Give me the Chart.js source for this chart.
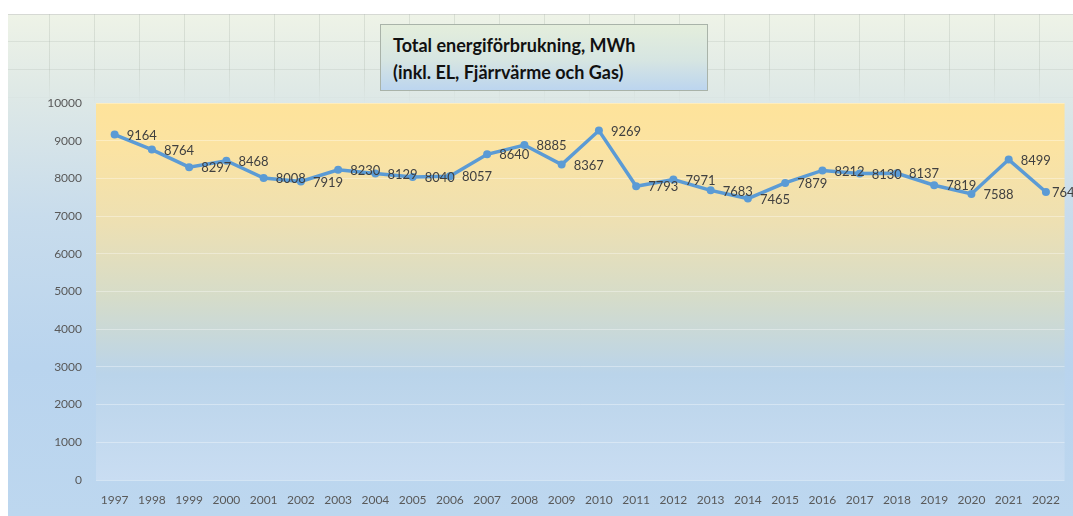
<!DOCTYPE html>
<html>
<head>
<meta charset="utf-8">
<script src="https://cdn.jsdelivr.net/npm/chart.js@4/dist/chart.umd.min.js"></script>
<style>
  html, body { margin: 0; padding: 0; background: #ffffff; }
  #wrap { position: relative; width: 1073px; height: 516px; overflow: hidden; }
  #bg {
    position: absolute; left: 8px; top: 14px; right: 0; bottom: 0;
    border-top: 1px solid #d6d9d4;
    background: linear-gradient(180deg, #eef3e7 0%, #dfe9e6 15%, #c8dcec 40%, #b9d4ee 70%, #bdd7ef 100%);
  }
  #sheet {
    position: absolute; left: 8px; top: 14px; right: 0; height: 90px;
    background:
      repeating-linear-gradient(90deg, rgba(170,180,170,0.0) 0px, rgba(170,180,170,0.0) 41px, rgba(170,180,170,0.3) 41px, rgba(170,180,170,0.3) 42px, rgba(170,180,170,0.0) 42px, rgba(170,180,170,0.0) 45px),
      repeating-linear-gradient(180deg, rgba(170,180,170,0.0) 0px, rgba(170,180,170,0.0) 27px, rgba(170,180,170,0.25) 27px, rgba(170,180,170,0.25) 28px);
    -webkit-mask-image: linear-gradient(180deg, #000 0%, #000 60%, transparent 100%);
    mask-image: linear-gradient(180deg, #000 0%, #000 60%, transparent 100%);
  }
  #chartbox { position: absolute; left: 0; top: 0; width: 1073px; height: 516px; }
  #title {
    position: absolute; left: 380px; top: 24px; width: 328px; height: 67px;
    border: 1px solid #a9b3a9;
    background: linear-gradient(180deg, #e4eedc 0%, #d6e5e2 55%, #bcd5ef 100%);
    font-family: Lato, "Open Sans", sans-serif; font-weight: bold; font-size: 18px;
    color: #111; box-sizing: border-box; padding: 7px 0 0 12px; line-height: 27px;
  }
</style>
</head>
<body>
<div id="wrap">
  <div id="bg"></div>
  <div id="sheet"></div>
  <div id="chartbox"><canvas id="c" width="1073" height="516"></canvas></div>
  <div id="title">Total energiförbrukning, MWh<br>(inkl. EL, Fjärrvärme och Gas)</div>
</div>
<script>
const years = ["1997","1998","1999","2000","2001","2002","2003","2004","2005","2006","2007","2008","2009","2010","2011","2012","2013","2014","2015","2016","2017","2018","2019","2020","2021","2022"];
const energyMWh = [9164,8764,8297,8468,8008,7919,8230,8129,8040,8057,8640,8885,8367,9269,7793,7971,7683,7465,7879,8212,8130,8137,7819,7588,8499,7640];
const yMin = 0, yMax = 10000, yStep = 1000;

const plotBg = {
  id: 'plotBg',
  beforeDraw(chart) {
    const {ctx, chartArea: a} = chart;
    const g = ctx.createLinearGradient(0, a.top, 0, a.bottom);
    g.addColorStop(0, '#fee39a');
    g.addColorStop(0.12, '#fbe3a2');
    g.addColorStop(0.32, '#ede0b3');
    g.addColorStop(0.52, '#d5dcca');
    g.addColorStop(0.72, '#bad4ea');
    g.addColorStop(1, '#c9ddf2');
    ctx.save();
    ctx.fillStyle = g;
    ctx.fillRect(a.left, a.top, a.right - a.left, a.bottom - a.top);
    ctx.restore();
  }
};

const valueLabels = {
  id: 'valueLabels',
  afterDatasetsDraw(chart) {
    const {ctx} = chart;
    const meta = chart.getDatasetMeta(0);
    const data = chart.data.datasets[0].data;
    const last = data.length - 1;
    ctx.save();
    ctx.font = '13px Lato, "Open Sans", sans-serif';
    ctx.fillStyle = '#404040';
    ctx.textAlign = 'left';
    ctx.textBaseline = 'middle';
    meta.data.forEach((pt, i) => {
      const dx = i === last ? 6 : 12;
      ctx.fillText(String(data[i]), pt.x + dx, pt.y + 1);
    });
    ctx.restore();
  }
};

new Chart(document.getElementById('c'), {
  type: 'line',
  data: {
    labels: years,
    datasets: [{
      data: energyMWh,
      borderColor: '#5b9bd5',
      backgroundColor: '#5b9bd5',
      borderWidth: 3.5,
      pointRadius: 4,
      pointBackgroundColor: '#5b9bd5',
      pointBorderColor: '#5b9bd5',
      pointBorderWidth: 0,
      tension: 0,
      fill: false
    }]
  },
  options: {
    responsive: false,
    animation: false,
    events: [],
    layout: { padding: { left: 0, right: 8, top: 103, bottom: 0 } },
    plugins: { legend: { display: false }, title: { display: false }, tooltip: { enabled: false } },
    scales: {
      x: {
        offset: true,
        grid: { display: false, drawTicks: false },
        border: { display: false },
        ticks: { color: '#595959', font: { family: 'Lato, "Open Sans", sans-serif', size: 12 }, padding: 13, maxRotation: 0, autoSkip: false },
        afterFit(s) { s.height = 36; }
      },
      y: {
        min: yMin, max: yMax,
        grid: { color: 'rgba(255,255,255,0.35)', lineWidth: 1, drawTicks: false },
        border: { display: false },
        ticks: { stepSize: yStep, color: '#595959', font: { family: 'Lato, "Open Sans", sans-serif', size: 12 }, padding: 14,
                 callback: (v) => String(v) },
        afterFit(s) { s.width = 96; }
      }
    }
  },
  plugins: [plotBg, valueLabels]
});
</script>
</body>
</html>
